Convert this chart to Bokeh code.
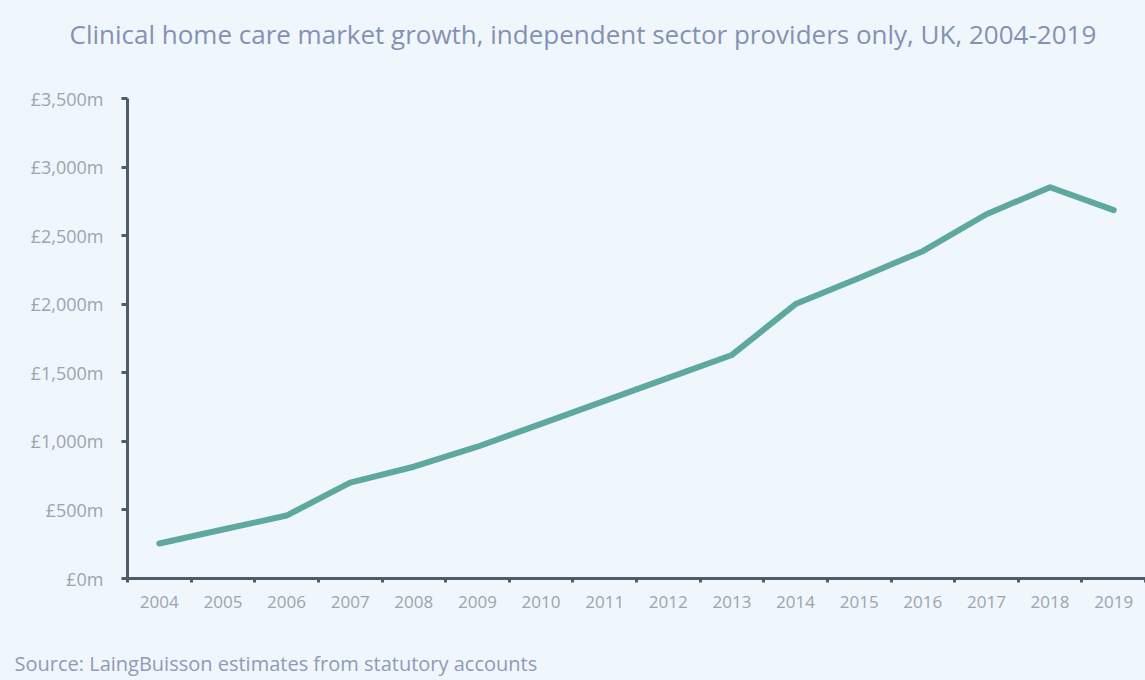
from bokeh.plotting import figure
from bokeh.models import Range1d, FixedTicker, Title
from bokeh.embed import file_html
from bokeh.resources import INLINE

years = ["2004", "2005", "2006", "2007", "2008", "2009", "2010", "2011",
         "2012", "2013", "2014", "2015", "2016", "2017", "2018", "2019"]
market_value = [255, 357, 459, 699, 815, 961, 1128, 1295,
                1463, 1630, 2001, 2191, 2387, 2656, 2853, 2686]
y_ticks = [0, 500, 1000, 1500, 2000, 2500, 3000, 3500]
y_tick_labels = ["£0m", "£500m", "£1,000m", "£1,500m", "£2,000m",
                 "£2,500m", "£3,000m", "£3,500m"]
title_text = "Clinical home care market growth, independent sector providers only, UK, 2004-2019"
source_text = "Source: LaingBuisson estimates from statutory accounts"

BG = "#eff7fc"
FONT = "Open Sans"

p = figure(width=1145, height=680, output_backend="svg", toolbar_location=None,
           x_range=Range1d(0, len(years)), y_range=Range1d(0, 3500),
           min_border_left=127, min_border_right=0, min_border_top=97,
           min_border_bottom=102)
p.background_fill_color = BG
p.border_fill_color = BG
p.outline_line_color = None
p.xgrid.grid_line_color = None
p.ygrid.grid_line_color = None

xs = [i + 0.5 for i in range(len(years))]
p.line(xs, market_value, line_color="#5fa89f", line_width=6, line_join="round", line_cap="round")

# x axis: labels at category centres, ticks at category boundaries
p.xaxis.ticker = FixedTicker(ticks=xs, minor_ticks=list(range(len(years) + 1)))
p.xaxis.major_label_overrides = {x: y for x, y in zip(xs, years)}
p.xaxis.major_tick_out = 0
p.xaxis.major_tick_in = 0
p.xaxis.minor_tick_out = 4
p.xaxis.minor_tick_in = 0
p.xaxis.minor_tick_line_color = "#4d5c68"
p.xaxis.minor_tick_line_width = 3
p.xaxis.major_label_standoff = 13
p.xaxis.major_label_text_font_size = "17px"

p.yaxis.ticker = FixedTicker(ticks=y_ticks, minor_ticks=[])
p.yaxis.major_label_overrides = {t: l for t, l in zip(y_ticks, y_tick_labels)}
p.yaxis.major_tick_out = 6
p.yaxis.major_tick_in = 0
p.yaxis.major_tick_line_color = "#4d5c68"
p.yaxis.major_tick_line_width = 3
p.yaxis.major_label_standoff = 18
p.yaxis.major_label_text_font_size = "18px"

for ax in (p.xaxis, p.yaxis):
    ax.axis_line_color = "#4d5c68"
    ax.axis_line_width = 3
    ax.major_label_text_font = FONT
    ax.major_label_text_color = "#9ba4b0"

# padding tuple order: (left, right, top, bottom)
p.add_layout(Title(text=title_text, align="left", offset=-58, standoff=27,
                   padding=(0, 0, 0, 33),
                   text_font=FONT, text_font_size="26px", text_font_style="normal",
                   text_color="#8591b2"), "above")
p.add_layout(Title(text=source_text, align="left", offset=-113, standoff=0,
                   padding=(0, 0, 37, 0),
                   text_font=FONT, text_font_size="20px", text_font_style="normal",
                   text_color="#8f9ab8"), "below")

html = file_html(p, INLINE)
html = html.replace("<head>", "<head><style>body{background:%s;}</style>" % BG, 1)
open("out.html", "w").write(html)
